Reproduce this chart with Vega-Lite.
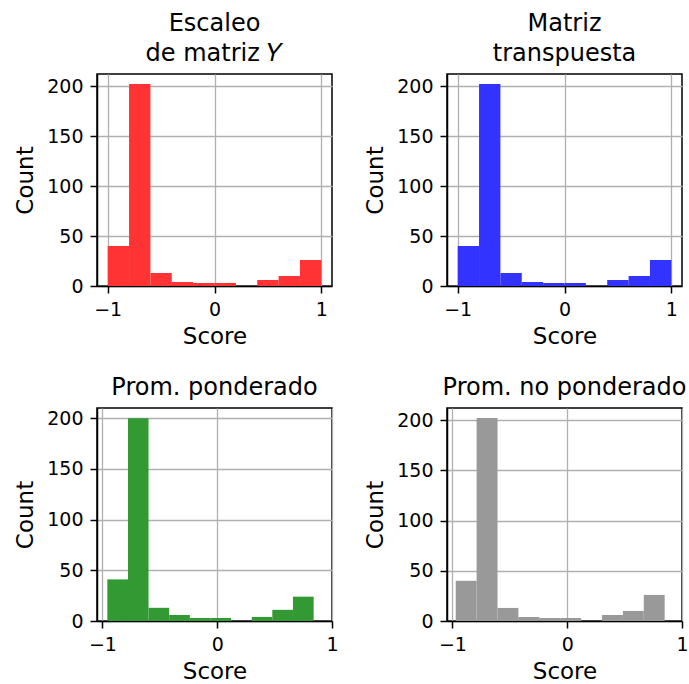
{
  "$schema": "https://vega.github.io/schema/vega-lite/v6.json",
  "autosize": {"type": "pad"},
  "padding": {"left": 13, "top": 11, "right": 0, "bottom": 0},
  "background": "white",
  "datasets": {
    "p1": [
      {"x0": -1.0, "x1": -0.8, "count": 40},
      {"x0": -0.8, "x1": -0.6, "count": 202},
      {"x0": -0.6, "x1": -0.4, "count": 13},
      {"x0": -0.4, "x1": -0.2, "count": 4},
      {"x0": -0.2, "x1": 0.0, "count": 3},
      {"x0": 0.0, "x1": 0.2, "count": 3},
      {"x0": 0.2, "x1": 0.4, "count": 0},
      {"x0": 0.4, "x1": 0.6, "count": 6},
      {"x0": 0.6, "x1": 0.8, "count": 10},
      {"x0": 0.8, "x1": 1.0, "count": 26}
    ],
    "p2": [
      {"x0": -1.0, "x1": -0.8, "count": 40},
      {"x0": -0.8, "x1": -0.6, "count": 202},
      {"x0": -0.6, "x1": -0.4, "count": 13},
      {"x0": -0.4, "x1": -0.2, "count": 4},
      {"x0": -0.2, "x1": 0.0, "count": 3},
      {"x0": 0.0, "x1": 0.2, "count": 3},
      {"x0": 0.2, "x1": 0.4, "count": 0},
      {"x0": 0.4, "x1": 0.6, "count": 6},
      {"x0": 0.6, "x1": 0.8, "count": 10},
      {"x0": 0.8, "x1": 1.0, "count": 26}
    ],
    "p3": [
      {"x0": -0.957, "x1": -0.777, "count": 41},
      {"x0": -0.777, "x1": -0.598, "count": 200},
      {"x0": -0.598, "x1": -0.418, "count": 13},
      {"x0": -0.418, "x1": -0.238, "count": 6},
      {"x0": -0.238, "x1": -0.059, "count": 3},
      {"x0": -0.059, "x1": 0.121, "count": 3},
      {"x0": 0.121, "x1": 0.301, "count": 0},
      {"x0": 0.301, "x1": 0.480, "count": 4},
      {"x0": 0.480, "x1": 0.660, "count": 11},
      {"x0": 0.660, "x1": 0.840, "count": 24}
    ],
    "p4": [
      {"x0": -0.971, "x1": -0.789, "count": 40},
      {"x0": -0.789, "x1": -0.607, "count": 202},
      {"x0": -0.607, "x1": -0.425, "count": 13},
      {"x0": -0.425, "x1": -0.243, "count": 4},
      {"x0": -0.243, "x1": -0.061, "count": 3},
      {"x0": -0.061, "x1": 0.121, "count": 3},
      {"x0": 0.121, "x1": 0.303, "count": 0},
      {"x0": 0.303, "x1": 0.485, "count": 6},
      {"x0": 0.485, "x1": 0.667, "count": 10},
      {"x0": 0.667, "x1": 0.849, "count": 26}
    ]
  },
  "config": {
    "font": "DejaVu Sans",
    "view": {"stroke": "black", "strokeWidth": 1.5},
    "axis": {
      "zindex": 1,
      "grid": true,
      "gridColor": "#b0b0b0",
      "gridWidth": 1.3,
      "domainColor": "black",
      "domainWidth": 1.5,
      "tickColor": "black",
      "tickWidth": 1.5,
      "tickSize": 7,
      "labelFontSize": 19,
      "labelColor": "black",
      "labelPadding": 7,
      "titleFontSize": 23,
      "titleFontWeight": "normal",
      "titleColor": "black",
      "labelFont": "DejaVu Sans",
      "titleFont": "DejaVu Sans"
    },
    "axisX": {"titlePadding": 6, "labelFlush": false},
    "axisY": {"titlePadding": 9},
    "title": {"fontSize": 24, "fontWeight": "normal", "color": "black", "font": "DejaVu Sans", "offset": 8, "lineHeight": 30, "anchor": "middle"}
  },
  "bounds": "flush",
  "columns": 2,
  "spacing": {"row": 122, "column": 115},
  "concat": [
    {
      "title": {"text": ["Escaleo", "de matriz 𝑌"]},
      "width": 235, "height": 212,
      "data": {"name": "p1"},
      "mark": {"type": "bar", "color": "#ff3333"},
      "encoding": {
        "x": {"field": "x0", "type": "quantitative", "scale": {"domain": [-1.1, 1.1], "nice": false}, "axis": {"title": "Score", "values": [-1, 0, 1], "labelExpr": "replace(format(datum.value, 'd'), '-', '−')"}},
        "x2": {"field": "x1"},
        "y": {"field": "count", "type": "quantitative", "scale": {"domain": [0, 212], "nice": false}, "axis": {"title": "Count", "values": [0, 50, 100, 150, 200]}},
        "y2": {"datum": 0}
      }
    },
    {
      "title": {"text": ["Matriz", "transpuesta"]},
      "width": 235, "height": 212,
      "data": {"name": "p2"},
      "mark": {"type": "bar", "color": "#3333ff"},
      "encoding": {
        "x": {"field": "x0", "type": "quantitative", "scale": {"domain": [-1.1, 1.1], "nice": false}, "axis": {"title": "Score", "values": [-1, 0, 1], "labelExpr": "replace(format(datum.value, 'd'), '-', '−')"}},
        "x2": {"field": "x1"},
        "y": {"field": "count", "type": "quantitative", "scale": {"domain": [0, 212], "nice": false}, "axis": {"title": "Count", "values": [0, 50, 100, 150, 200]}},
        "y2": {"datum": 0}
      }
    },
    {
      "title": {"text": "Prom. ponderado"},
      "width": 235, "height": 213,
      "data": {"name": "p3"},
      "mark": {"type": "bar", "color": "#339933"},
      "encoding": {
        "x": {"field": "x0", "type": "quantitative", "scale": {"domain": [-1.047, 1.0], "nice": false}, "axis": {"title": "Score", "values": [-1, 0, 1], "labelExpr": "replace(format(datum.value, 'd'), '-', '−')"}},
        "x2": {"field": "x1"},
        "y": {"field": "count", "type": "quantitative", "scale": {"domain": [0, 210], "nice": false}, "axis": {"title": "Count", "values": [0, 50, 100, 150, 200]}},
        "y2": {"datum": 0}
      }
    },
    {
      "title": {"text": "Prom. no ponderado"},
      "width": 235, "height": 213,
      "data": {"name": "p4"},
      "mark": {"type": "bar", "color": "#999999"},
      "encoding": {
        "x": {"field": "x0", "type": "quantitative", "scale": {"domain": [-1.047, 1.0], "nice": false}, "axis": {"title": "Score", "values": [-1, 0, 1], "labelExpr": "replace(format(datum.value, 'd'), '-', '−')"}},
        "x2": {"field": "x1"},
        "y": {"field": "count", "type": "quantitative", "scale": {"domain": [0, 212], "nice": false}, "axis": {"title": "Count", "values": [0, 50, 100, 150, 200]}},
        "y2": {"datum": 0}
      }
    }
  ]
}
